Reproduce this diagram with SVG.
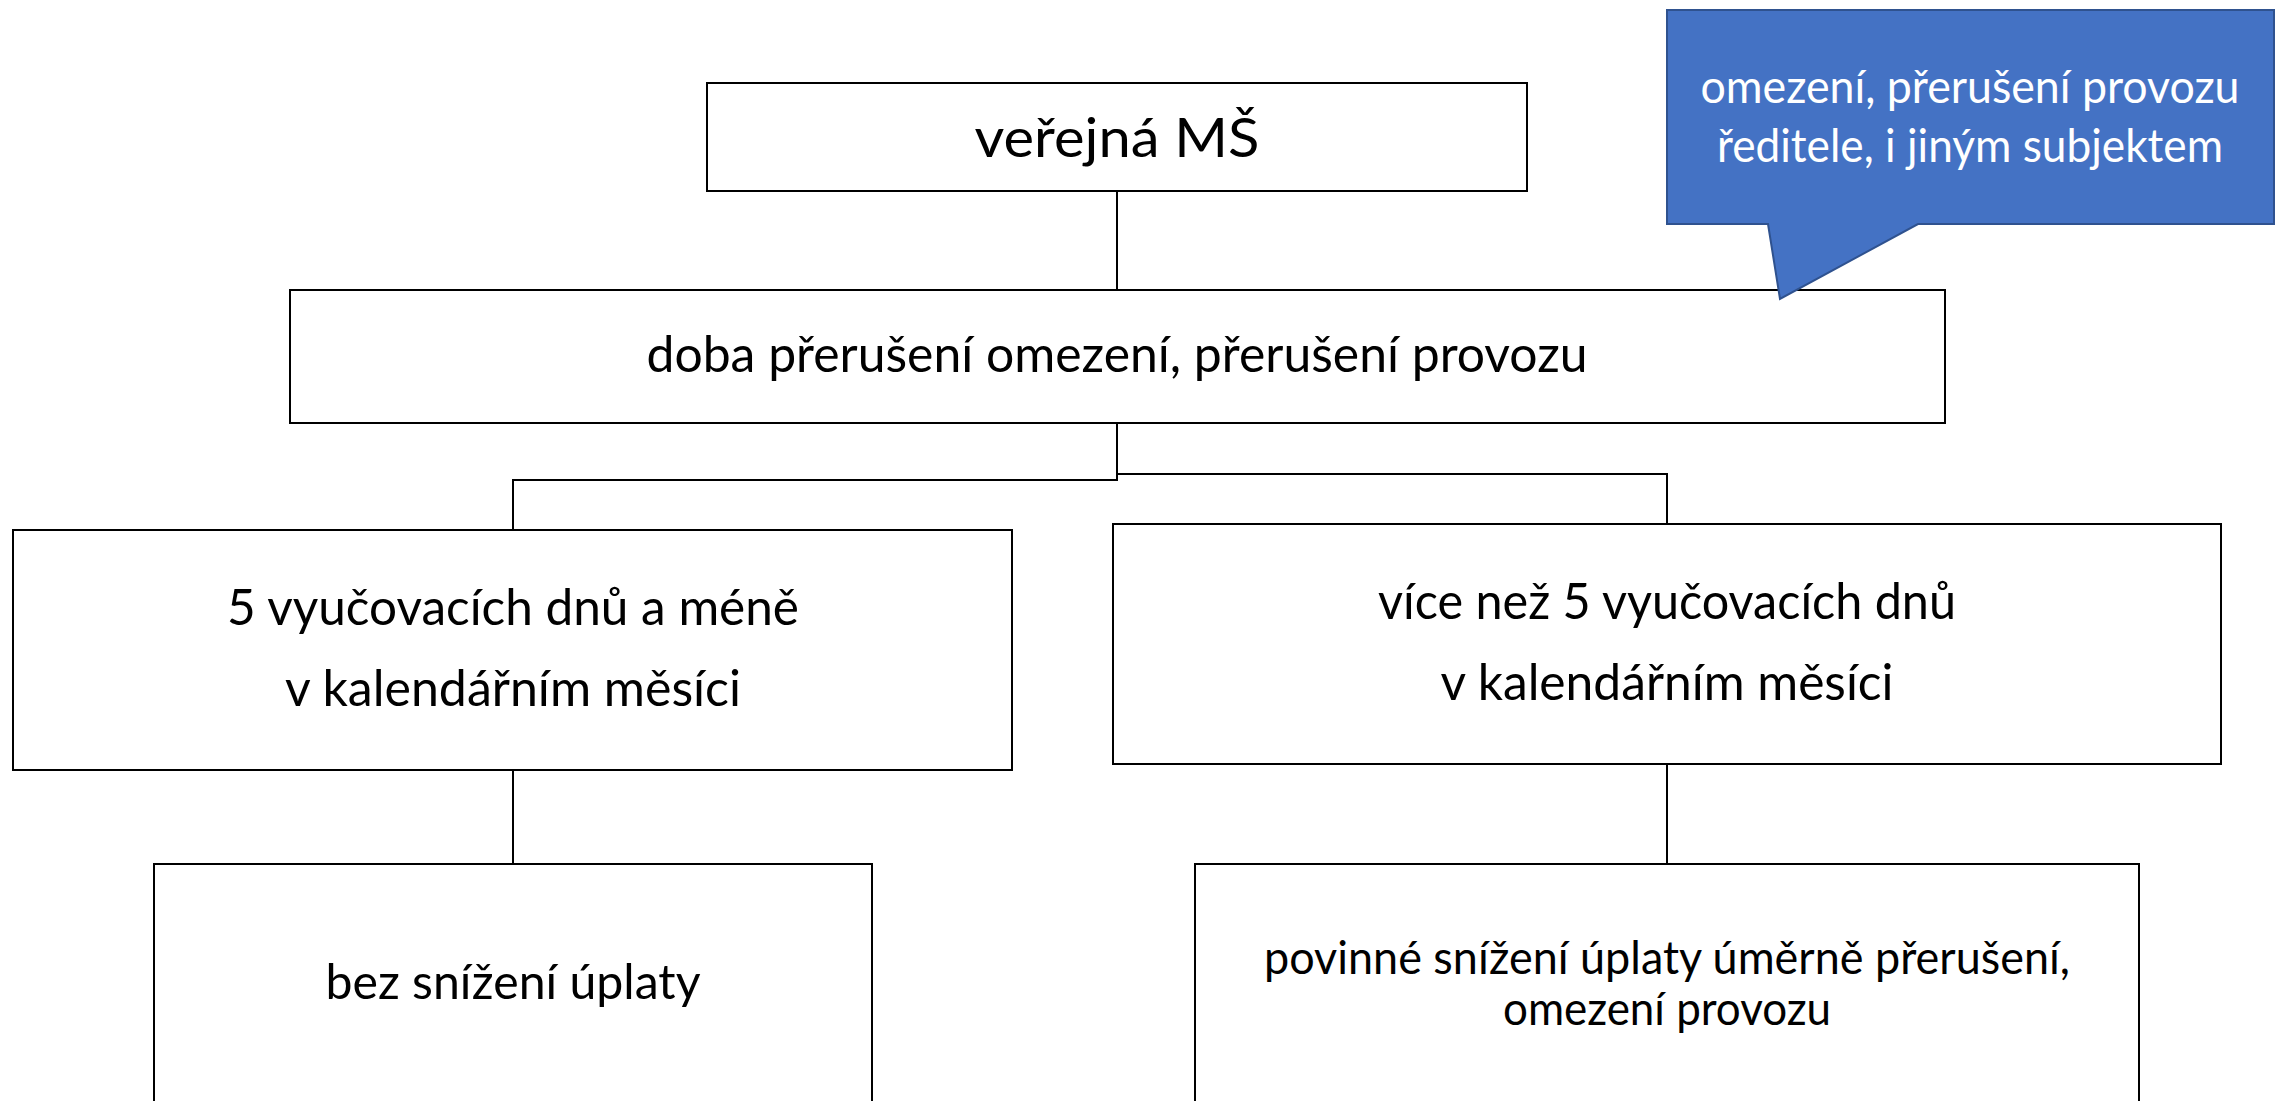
<svg xmlns="http://www.w3.org/2000/svg" width="2284" height="1101" viewBox="0 0 2284 1101">
<style>
.box{fill:#fff;stroke:#000;stroke-width:2}
.conn{fill:none;stroke:#000;stroke-width:2}
.t{font-family:Lato,"Open Sans","Liberation Sans",sans-serif;fill:#000;text-anchor:middle}
.w{fill:#fff}
.call{fill:#4472C4;stroke:#2F528F;stroke-width:2}
</style>
<rect width="2284" height="1101" fill="#fff"/>
<g id="connectors">
<path class="conn" d="M1117,191 V290"/>
<path class="conn" d="M1117,423 V480 H513 V530"/>
<path class="conn" d="M1117,423 V474 H1667 V524"/>
<path class="conn" d="M513,770 V864"/>
<path class="conn" d="M1667,764 V864"/>
</g>
<g id="node-verejna">
<rect class="box" x="707" y="83" width="820" height="108"/>
<text class="t" x="1117" y="157" font-size="55" textLength="285" lengthAdjust="spacingAndGlyphs">veřejná MŠ</text>
</g>
<g id="node-doba">
<rect class="box" x="290" y="290" width="1655" height="133"/>
<text class="t" x="1117" y="372" font-size="50" textLength="941" lengthAdjust="spacingAndGlyphs">doba přerušení omezení, přerušení provozu</text>
</g>
<g id="node-5dnu">
<rect class="box" x="13" y="530" width="999" height="240"/>
<text class="t" x="513" y="625" font-size="50" textLength="572" lengthAdjust="spacingAndGlyphs">5 vyučovacích dnů a méně</text>
<text class="t" x="513" y="706" font-size="50" textLength="456" lengthAdjust="spacingAndGlyphs">v kalendářním měsíci</text>
</g>
<g id="node-vice">
<rect class="box" x="1113" y="524" width="1108" height="240"/>
<text class="t" x="1667" y="619" font-size="50" textLength="578" lengthAdjust="spacingAndGlyphs">více než 5 vyučovacích dnů</text>
<text class="t" x="1667" y="700" font-size="50" textLength="453" lengthAdjust="spacingAndGlyphs">v kalendářním měsíci</text>
</g>
<g id="node-bez">
<rect class="box" x="154" y="864" width="718" height="250"/>
<text class="t" x="513" y="999" font-size="48" textLength="375" lengthAdjust="spacingAndGlyphs">bez snížení úplaty</text>
</g>
<g id="node-povinne">
<rect class="box" x="1195" y="864" width="944" height="250"/>
<text class="t" x="1667" y="974" font-size="46" textLength="806" lengthAdjust="spacingAndGlyphs">povinné snížení úplaty úměrně přerušení,</text>
<text class="t" x="1667" y="1025" font-size="46" textLength="328" lengthAdjust="spacingAndGlyphs">omezení provozu</text>
</g>
<g id="node-callout">
<path class="call" d="M1667,10 H2274 V224 H1918 L1780,299 L1768,224 H1667 Z"/>
<text class="t w" x="1970" y="103" font-size="46" textLength="539" lengthAdjust="spacingAndGlyphs">omezení, přerušení provozu</text>
<text class="t w" x="1970" y="162" font-size="46" textLength="506" lengthAdjust="spacingAndGlyphs">ředitele, i jiným subjektem</text>
</g>
</svg>
